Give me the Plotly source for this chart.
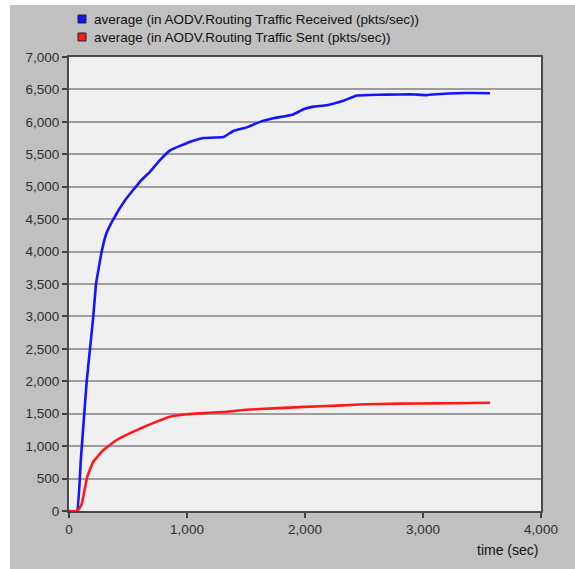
import plotly.graph_objects as go

# Routing traffic averages over simulation time
recv_time = [0, 68, 100, 150, 178, 206, 229, 277, 319, 373, 475, 602, 686, 771, 856,
             941, 1054, 1138, 1308, 1393, 1506, 1619, 1732, 1901, 1986, 2071, 2184,
             2325, 2438, 2550, 2692, 2890, 3031, 3150, 3285, 3427, 3568]
recv_vals = [0, 0, 780, 2000, 2500, 3000, 3500, 4000, 4290, 4490, 4790, 5080, 5230,
             5410, 5560, 5630, 5710, 5750, 5765, 5860, 5915, 6000, 6055, 6115, 6195,
             6235, 6255, 6325, 6405, 6415, 6420, 6425, 6412, 6430, 6442, 6446, 6442]

sent_time = [0, 70, 107, 155, 206, 291, 404, 545, 686, 856, 997, 1110, 1336, 1500,
             1732, 2000, 2268, 2500, 2800, 3100, 3400, 3568]
sent_vals = [0, 0, 100, 530, 760, 940, 1095, 1223, 1336, 1454, 1491, 1506, 1531, 1560,
             1583, 1605, 1624, 1645, 1655, 1660, 1665, 1668]

series_names = ["average (in AODV.Routing Traffic Received (pkts/sec))",
                "average (in AODV.Routing Traffic Sent (pkts/sec))"]
series_colors = ["#1414ff", "#ff1a1a"]

x_ticks = [0, 1000, 2000, 3000, 4000]
y_ticks = list(range(0, 7001, 500))

W, H = 575, 569
L, R, T, B = 69, 34, 57, 58
pw, ph = W - L - R, H - T - B


def px(xp):
    return (xp - L) / pw


def py(yp):
    return (H - B - yp) / ph


fig = go.Figure()
for t, v, name, col in [(recv_time, recv_vals, series_names[0], series_colors[0]),
                        (sent_time, sent_vals, series_names[1], series_colors[1])]:
    fig.add_trace(go.Scatter(x=t, y=v, mode="lines", name=name,
                             line=dict(color=col, width=2.6, shape="spline", smoothing=0.3),
                             showlegend=False))

font = "Liberation Sans, Arial, sans-serif"
shapes = [
    # white frame strips outside the grey panel
    dict(type="rect", xref="paper", yref="paper", x0=px(-5), x1=px(10), y0=py(H + 5), y1=py(-5),
         fillcolor="white", line_width=0, layer="above"),
    dict(type="rect", xref="paper", yref="paper", x0=px(-5), x1=px(W + 5), y0=py(5), y1=py(-5),
         fillcolor="white", line_width=0, layer="above"),
]
annotations = []
for i, (name, col) in enumerate(zip(series_names, series_colors)):
    cy = 19 + 18 * i
    shapes.append(dict(type="rect", xref="paper", yref="paper",
                       x0=px(78), x1=px(86), y0=py(cy + 4), y1=py(cy - 4),
                       fillcolor=col, line=dict(color="#202020", width=1), layer="above"))
    annotations.append(dict(text=name, xref="paper", yref="paper", x=px(92), y=py(cy),
                            xanchor="left", yanchor="middle", showarrow=False,
                            font=dict(family=font, size=13.5, color="#111111")))

annotations.append(dict(text="time (sec)", xref="paper", yref="paper", x=px(540), y=py(550),
                        xanchor="right", yanchor="middle", showarrow=False,
                        font=dict(family=font, size=14, color="#111111")))

axis_common = dict(showline=True, mirror=True, linecolor="#4a4a4a", linewidth=2,
                   ticks="outside", ticklen=5, tickwidth=1.5, tickcolor="#404040",
                   tickfont=dict(family=font, size=13.5, color="#2e2e2e"),
                   tickformat=",d", zeroline=False)

fig.update_layout(
    width=W, height=H,
    margin=dict(l=L, r=R, t=T, b=B),
    paper_bgcolor="#c0c0c0",
    plot_bgcolor="#f0f0f0",
    showlegend=False,
    xaxis=dict(range=[0, 4000], tickvals=x_ticks, showgrid=False, **axis_common),
    yaxis=dict(range=[0, 7000], tickvals=y_ticks, showgrid=True, gridcolor="#9c9c9c",
               gridwidth=2, **axis_common),
    shapes=shapes,
    annotations=annotations,
)

fig.write_html("out.html")
